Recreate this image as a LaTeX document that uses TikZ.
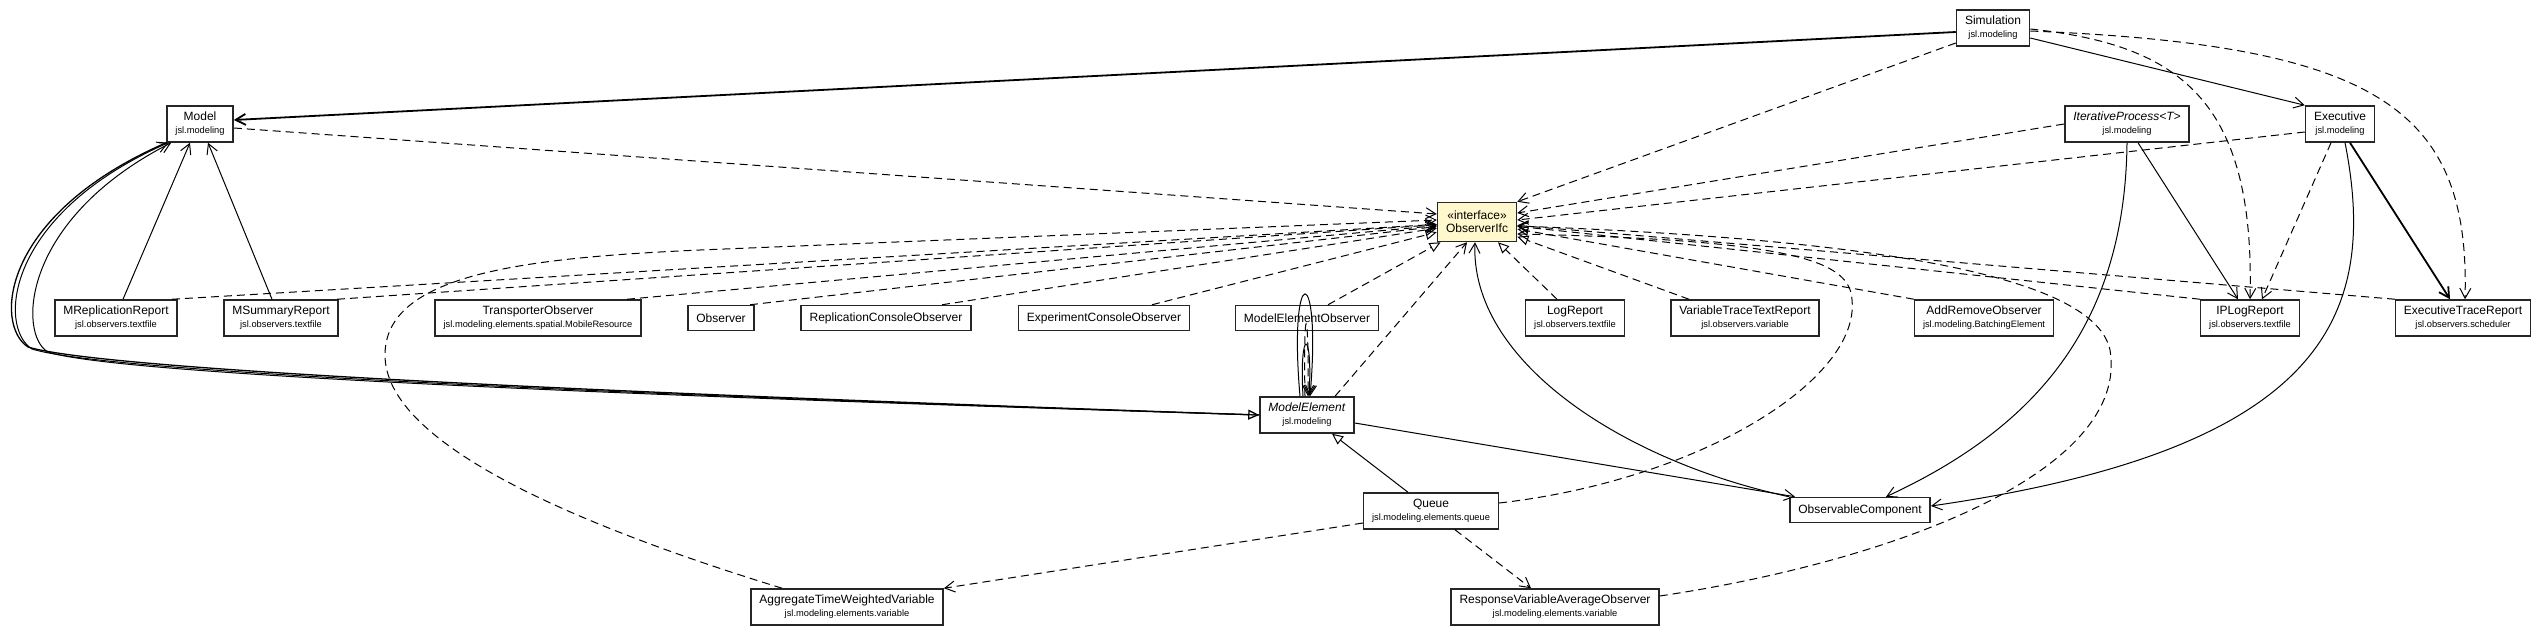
\documentclass[tikz,border=0pt]{standalone}
\usepackage{fontspec}
\setmainfont{Liberation Sans}
\usetikzlibrary{arrows.meta}
\definecolor{IfcFill}{HTML}{FFF8CC}
\newcommand{\pkgname}[1]{{\fontsize{9.3}{11}\selectfont #1}}

\begin{document}
\begin{tikzpicture}[x=1pt,y=-1pt,
klass/.style={draw=black!85,line width=1.5pt,fill=white,align=center,inner xsep=8.5pt,inner ysep=1pt,minimum height=36pt,font=\fontsize{12}{13}\selectfont},
single/.style={klass,minimum height=25pt},
dep/.style={line width=1pt,dash pattern=on 8pt off 5pt,-{Straight Barb[length=10pt,width=11pt]}},
real/.style={line width=1pt,dash pattern=on 8pt off 5pt,-{Triangle[open,length=11pt,width=10pt]}},
assoc/.style={line width=1pt,-{Straight Barb[length=10pt,width=11pt]}},
gen/.style={line width=1pt,-{Triangle[open,length=11pt,width=10pt]}}]
\useasboundingbox(0,0)rectangle(2547,637);
% classes
\node[klass](model)at(200,124){Model\\\pkgname{jsl.modeling}};
\node[klass](simulation)at(1993,28){Simulation\\\pkgname{jsl.modeling}};
\node[klass](iterproc)at(2127,124){\textit{IterativeProcess<T>}\\\pkgname{jsl.modeling}};
\node[klass](executive)at(2340,124){Executive\\\pkgname{jsl.modeling}};
\node[klass,fill=IfcFill,minimum height=39pt](obsifc)at(1477,222){«interface»\\ObserverIfc};
\node[klass](mrepl)at(116,318){MReplicationReport\\\pkgname{jsl.observers.textfile}};
\node[klass](msum)at(281,318){MSummaryReport\\\pkgname{jsl.observers.textfile}};
\node[klass](transp)at(538,318){TransporterObserver\\\pkgname{jsl.modeling.elements.spatial.MobileResource}};
\node[single](observer)at(721,318){Observer};
\node[single](replcons)at(886,318){ReplicationConsoleObserver};
\node[single](expcons)at(1104,318){ExperimentConsoleObserver};
\node[single](meobs)at(1307,318){ModelElementObserver};
\node[klass](logrep)at(1575,318){LogReport\\\pkgname{jsl.observers.textfile}};
\node[klass](vartrace)at(1745,318){VariableTraceTextReport\\\pkgname{jsl.observers.variable}};
\node[klass](addrem)at(1984,318){AddRemoveObserver\\\pkgname{jsl.modeling.BatchingElement}};
\node[klass](iplog)at(2250,318){IPLogReport\\\pkgname{jsl.observers.textfile}};
\node[klass](exectrace)at(2463,318){ExecutiveTraceReport\\\pkgname{jsl.observers.scheduler}};
\node[klass](melem)at(1307,415){\textit{ModelElement}\\\pkgname{jsl.modeling}};
\node[klass](queue)at(1431,511){Queue\\\pkgname{jsl.modeling.elements.queue}};
\node[single](obscomp)at(1860,510){ObservableComponent};
\node[klass](aggtw)at(847,607){AggregateTimeWeightedVariable\\\pkgname{jsl.modeling.elements.variable}};
\node[klass](respavg)at(1555,607){ResponseVariableAverageObserver\\\pkgname{jsl.modeling.elements.variable}};
% associations
\draw[assoc,line width=1.8pt]([yshift=-4pt]simulation.west)--([yshift=4pt]model.east);
\draw[assoc]([yshift=-10pt]simulation.east)--(executive.north west);
\draw[assoc]([xshift=11pt]iterproc.south)--([xshift=-12pt]iplog.north);
\draw[assoc,line width=1.8pt]([xshift=10pt]executive.south)--([xshift=-13pt]exectrace.north);
\draw[assoc]([xshift=7pt]mrepl.north)--([xshift=-10pt]model.south);
\draw[assoc]([xshift=-9pt]msum.north)--([xshift=8pt]model.south);
\draw[assoc]([yshift=-8pt]melem.east)--([xshift=6pt]obscomp.north west);
\draw[assoc](obscomp.north west)..controls(1620,460)and(1470,360)..([xshift=-2pt]obsifc.south);
\draw[assoc](iterproc.south)..controls(2125,330)and(2030,430)..([xshift=26pt]obscomp.north);
\draw[assoc]([xshift=5pt]executive.south)..controls(2380,320)and(2320,450)..([yshift=4pt]obscomp.east);
% Model and ModelElement
\draw[gen,line width=1.3pt](model.south west)..controls(0,215)and(-6,325)..(28,347)..controls(110,372)and(700,396)..(melem.west);
\draw[assoc](melem.west)..controls(700,397)and(110,374)..(32,349)..controls(-2,328)and(4,215)..([xshift=2pt]model.south west);
\draw[assoc](melem.west)..controls(700,398)and(120,376)..(48,352)..controls(18,335)and(20,220)..([xshift=5pt]model.south west);
\draw[assoc]([xshift=-7pt]melem.north)..controls(1288,260)and(1322,260)..([xshift=3pt]melem.north);
\draw[dep]([xshift=-2pt]melem.north)..controls(1303,300)and(1309,300)..([xshift=1pt]melem.north);
\draw[assoc]([xshift=-4pt]melem.north)..controls(1299,327)and(1313,327)..([xshift=2pt]melem.north);
\draw[gen]([xshift=-23pt]queue.north)--([xshift=25pt]melem.south);
% dependencies
\draw[dep]([yshift=-4pt]model.east)--([yshift=8pt]obsifc.west);
\draw[dep]([yshift=-15pt]simulation.west)--(obsifc.north east);
\draw[dep](iterproc.west)--([yshift=9pt]obsifc.east);
\draw[dep]([yshift=-8pt]executive.west)--([yshift=2pt]obsifc.east);
\draw[dep]([yshift=-1pt]simulation.east)..controls(2180,45)and(2255,100)..(iplog.north);
\draw[dep]([yshift=-3pt]simulation.east)..controls(2380,45)and(2470,110)..([xshift=2pt]exectrace.north);
\draw[dep]([xshift=-9pt]executive.south)--([xshift=12pt]iplog.north);
\draw[dep]([xshift=28pt]melem.north)--([xshift=-10pt]obsifc.south);
\draw[dep]([yshift=-12pt]queue.west)--(aggtw.north east);
\draw[dep]([xshift=24pt]queue.south)--([xshift=-24pt]respavg.north);
\draw[dep]([yshift=8pt]queue.east)..controls(1700,480)and(1860,380)..(1852,300)..controls(1850,262)and(1800,240)..([yshift=-12pt]obsifc.east);
\draw[dep]([yshift=11pt]respavg.east)..controls(1900,560)and(2130,470)..(2110,350)..controls(2095,280)and(1900,240)..([yshift=-4pt]obsifc.east);
\draw[dep]([xshift=32pt]aggtw.north west)..controls(560,520)and(385,440)..(385,355)..controls(385,275)and(520,258)..(700,250)--([yshift=2pt]obsifc.west);
\foreach \n/\s in {mrepl/56pt,msum/56pt,transp/89pt,observer/29pt,replcons/56pt,iplog/-50pt,exectrace/-68pt}{
\draw[dep]([xshift=\s]\n.north)--(obsifc);}
% realizations
\foreach \n/\s in {expcons/48pt,meobs/21pt,logrep/-18pt,vartrace/-56pt,addrem/-70pt}{
\draw[real]([xshift=\s]\n.north)--(obsifc);}
\end{tikzpicture}
\end{document}
